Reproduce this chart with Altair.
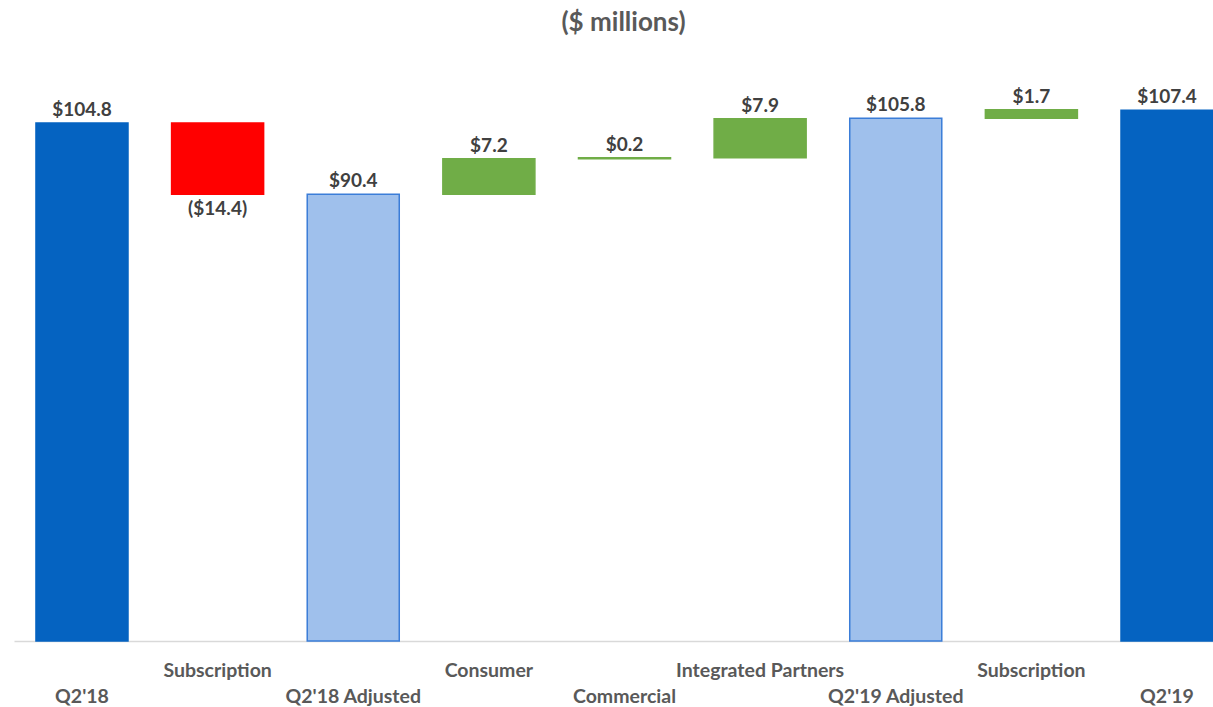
import altair as alt
import pandas as pd

labels = ["Q2'18", "Subscription", "Q2'18 Adjusted", "Consumer", "Commercial",
          "Integrated Partners", "Q2'19 Adjusted", "Subscription", "Q2'19"]
values = [104.8, -14.4, 90.4, 7.2, 0.2, 7.9, 105.8, 1.7, 107.4]
kinds = ["total", "neg", "adjusted", "pos", "pos", "pos", "adjusted", "pos", "total"]
value_text = ["$104.8", "($14.4)", "$90.4", "$7.2", "$0.2", "$7.9", "$105.8", "$1.7", "$107.4"]

rows = []
running = 0.0
for i, (lab, v, k, t) in enumerate(zip(labels, values, kinds, value_text)):
    if k in ("total", "adjusted"):
        start, end = 0.0, v
        running = v
    else:
        start, end = running, running + v
        running = end
    rows.append({"key": f"{i:02d}", "label": lab, "start": start, "end": end,
                 "top": max(start, end), "bottom": min(start, end),
                 "kind": k, "txt": t, "row": i % 2, "neg": v < 0})
df = pd.DataFrame(rows)

x = alt.X("key:N", sort=None,
          scale=alt.Scale(range=[0, 1221], paddingInner=0.3215, paddingOuter=0.162),
          axis=alt.Axis(title=None, labels=False, ticks=False, domain=True,
                        domainColor="#d9d9d9", domainWidth=1.5, grid=False))
yscale = alt.Scale(domain=[0, 120], nice=False, zero=True)

base = alt.Chart(df)

color_scale = alt.Scale(domain=["total", "neg", "adjusted", "pos"],
                        range=["#0563C1", "#FF0000", "#9FC0EC", "#70AD47"])
stroke_scale = alt.Scale(domain=["total", "neg", "adjusted", "pos"],
                         range=["#0563C1", "#FF0000", "#3B7DD8", "#70AD47"])

bars = base.mark_bar(strokeWidth=1.5).encode(
    x=x,
    y=alt.Y("start:Q", scale=yscale, axis=None),
    y2="end:Q",
    fill=alt.Fill("kind:N", scale=color_scale, legend=None),
    stroke=alt.Stroke("kind:N", scale=stroke_scale, legend=None),
)

font = "Lato"
pos_labels = base.transform_filter("!datum.neg").mark_text(
    baseline="bottom", dy=-3, font=font, fontWeight="bold", fontSize=19, color="#404040"
).encode(x=x, y=alt.Y("top:Q", scale=yscale), text="txt:N")

neg_labels = base.transform_filter("datum.neg").mark_text(
    baseline="top", dy=6, font=font, fontWeight="bold", fontSize=19, color="#404040"
).encode(x=x, y=alt.Y("bottom:Q", scale=yscale), text="txt:N")

cat_row1 = base.transform_filter("datum.row == 1").mark_text(
    baseline="middle", font=font, fontWeight="bold", fontSize=19.5, color="#595959"
).encode(x=x, y=alt.value(623), text="label:N")

cat_row0 = base.transform_filter("datum.row == 0").mark_text(
    baseline="middle", font=font, fontWeight="bold", fontSize=19.5, color="#595959"
).encode(x=x, y=alt.value(649), text="label:N")

chart = alt.layer(bars, pos_labels, neg_labels, cat_row1, cat_row0).properties(
    width=1199, height=593,
    title=alt.TitleParams("($ millions)", font=font, fontSize=26, fontWeight="bold",
                          color="#595959", offset=12, dx=10, anchor="middle"),
    autosize=alt.AutoSizeParams(type="none"),
    padding={"left": 14, "top": 48, "right": 0, "bottom": 66},
).configure_view(stroke=None)

chart.save("out.html", embed_options={"renderer": "svg", "actions": False})
